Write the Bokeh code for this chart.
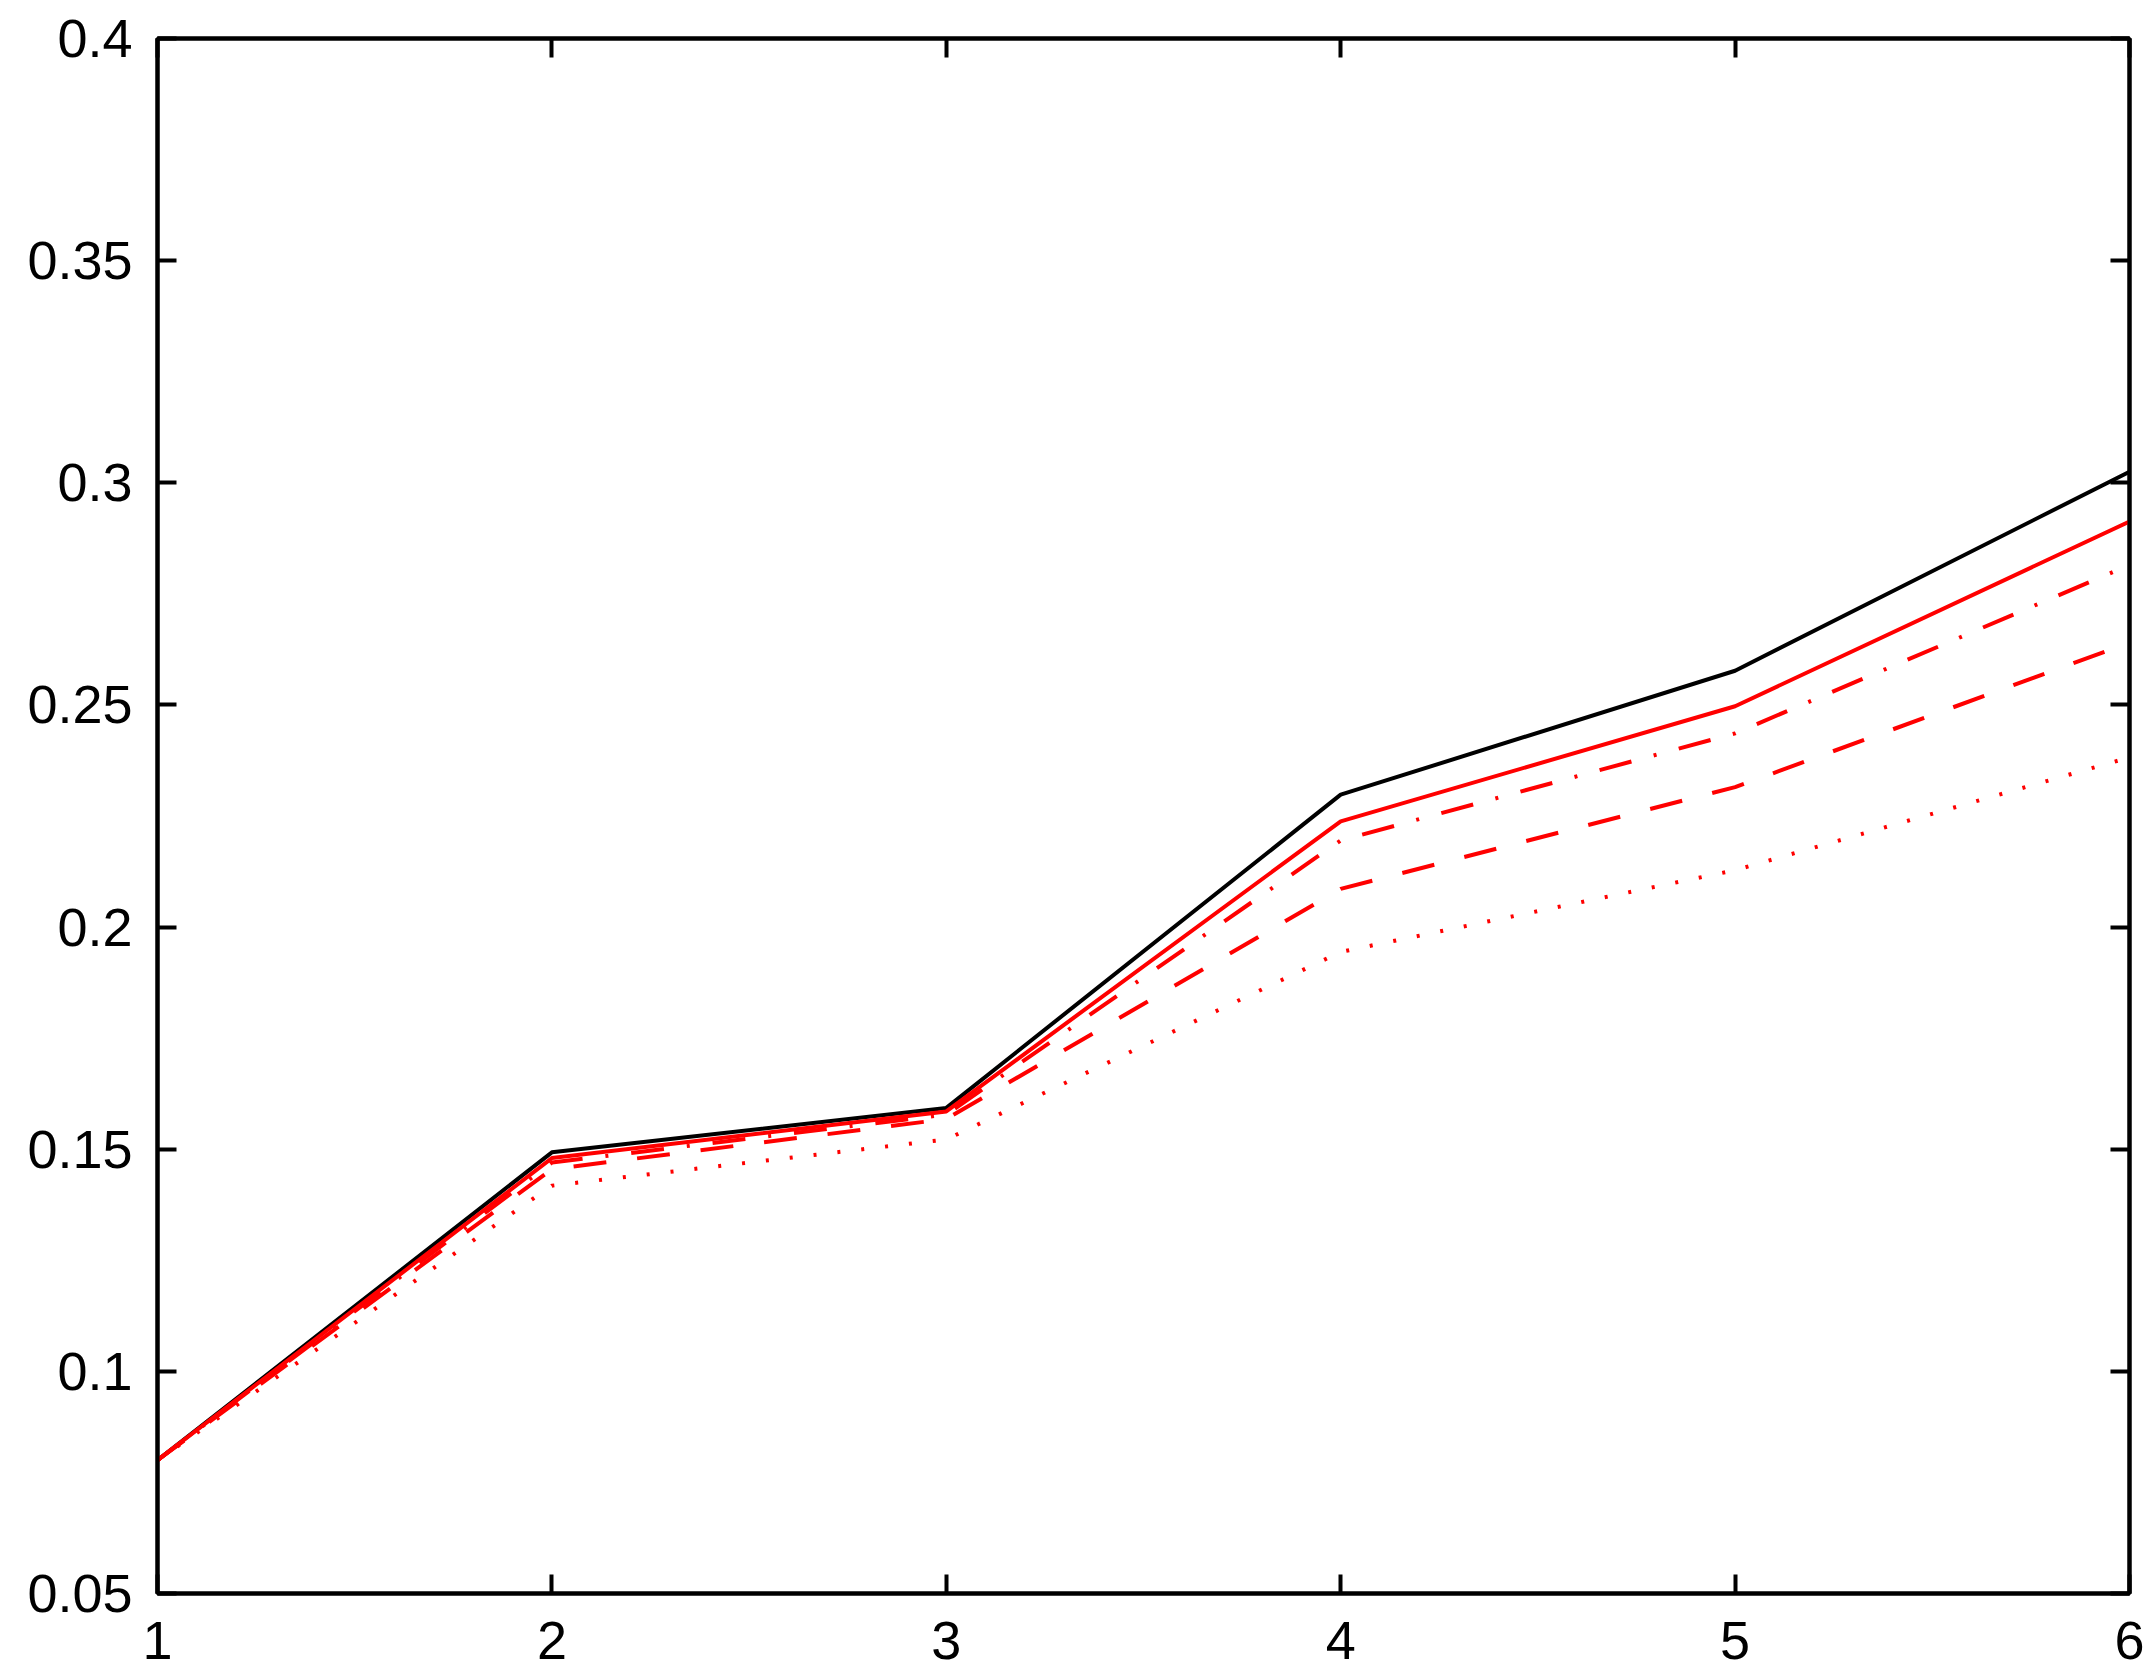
from bokeh.plotting import figure
from bokeh.models import LinearAxis, FixedTicker, Range1d
from bokeh.embed import file_html
from bokeh.resources import INLINE

x = [1, 2, 3, 4, 5, 6]
black_solid = [0.080, 0.1493, 0.1593, 0.2298, 0.2577, 0.3025]
red_solid = [0.080, 0.1480, 0.1585, 0.2238, 0.2497, 0.2913]
red_dashdot = [0.080, 0.1470, 0.1578, 0.2195, 0.2436, 0.2815]
red_dashed = [0.080, 0.1455, 0.1568, 0.2086, 0.2315, 0.2640]
red_dotted = [0.080, 0.1418, 0.1522, 0.1944, 0.2128, 0.2382]

x_ticks = [1, 2, 3, 4, 5, 6]
y_ticks = [0.05, 0.1, 0.15, 0.2, 0.25, 0.3, 0.35, 0.4]
y_labels = {0.05: "0.05", 0.1: "0.1", 0.15: "0.15", 0.2: "0.2", 0.25: "0.25",
            0.3: "0.3", 0.35: "0.35", 0.4: "0.4"}

FONT = "Liberation Sans"
FS = "54px"

p = figure(width=2150, height=1672, output_backend="svg",
           toolbar_location=None, x_axis_location=None, y_axis_location=None,
           x_range=Range1d(1, 6), y_range=Range1d(0.05, 0.4),
           min_border_left=157, min_border_top=38, min_border_right=21,
           min_border_bottom=79)
p.grid.visible = False
p.outline_line_color = "black"
p.outline_line_width = 4
p.background_fill_color = "white"
p.border_fill_color = "white"

def make_axis(loc, show_labels, ticks, overrides=None):
    ax = LinearAxis(ticker=FixedTicker(ticks=ticks))
    ax.axis_line_color = "black"
    ax.axis_line_width = 4
    ax.major_tick_line_color = "black"
    ax.major_tick_line_width = 4
    ax.major_tick_in = 19
    ax.major_tick_out = 0
    ax.minor_tick_line_color = None
    ax.major_label_text_font = FONT
    ax.major_label_text_color = "black"
    ax.major_label_text_font_size = FS
    if show_labels:
        if overrides:
            ax.major_label_overrides = overrides
    else:
        ax.major_label_overrides = {t: "" for t in ticks}
        ax.major_label_standoff = 0
    p.add_layout(ax, loc)
    return ax

bx = make_axis("below", True, x_ticks)
bx.major_label_standoff = 28
ly = make_axis("left", True, y_ticks, y_labels)
ly.major_label_standoff = 25
make_axis("above", False, x_ticks)
make_axis("right", False, y_ticks)

LW = 4
p.line(x, black_solid, line_color="black", line_width=LW)
p.line(x, red_dotted, line_color="#ff0000", line_width=LW, line_dash="3 21")
p.line(x, red_dashed, line_color="#ff0000", line_width=LW, line_dash="33 31")
p.line(x, red_dashdot, line_color="#ff0000", line_width=LW, line_dash="33 23 3 23")
p.line(x, red_solid, line_color="#ff0000", line_width=LW)

open("out.html", "w").write(file_html(p, INLINE))
